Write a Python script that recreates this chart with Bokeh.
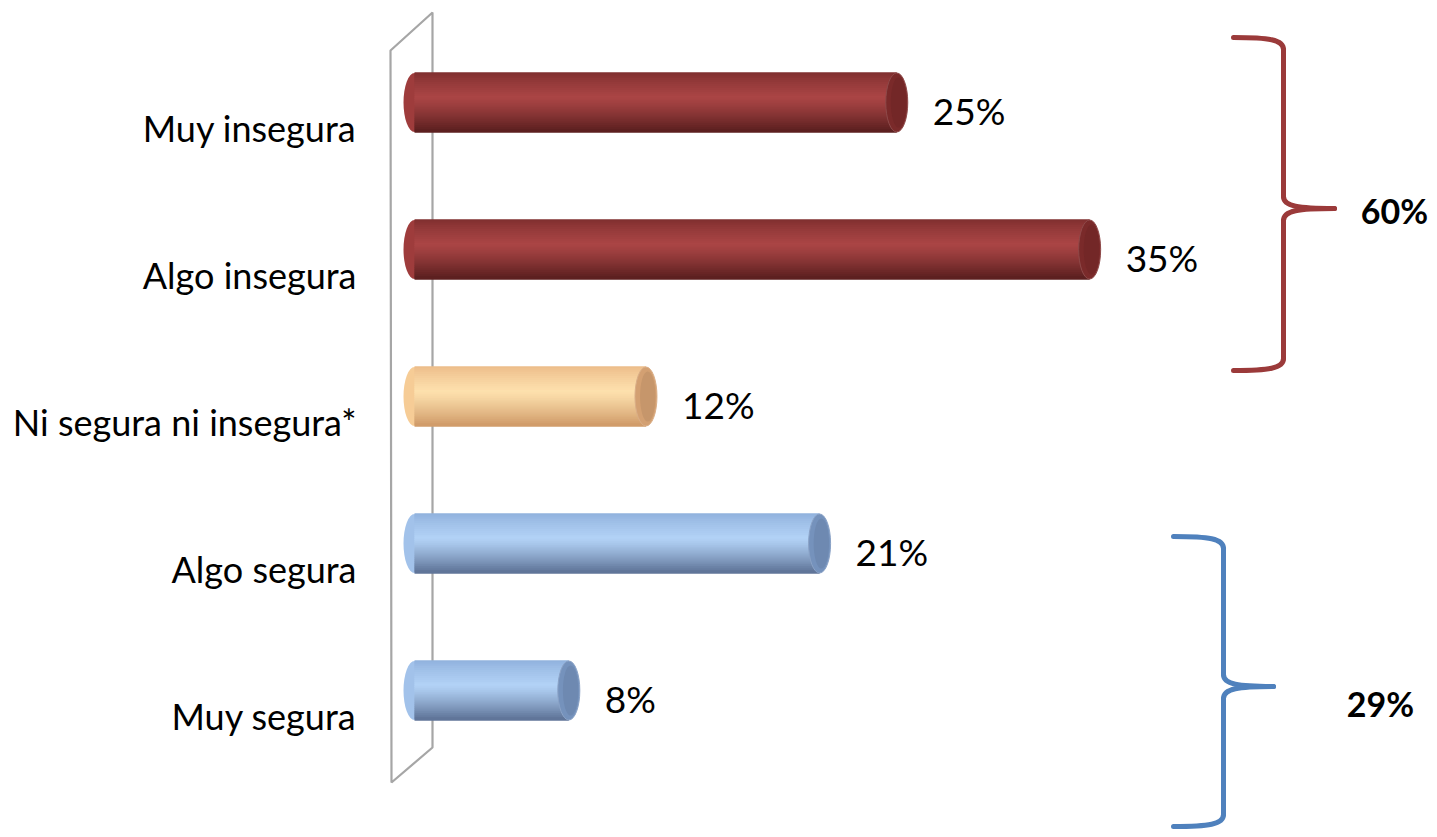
from bokeh.plotting import figure
from bokeh.models import Range1d
from bokeh.core.properties import value
from bokeh.embed import file_html
from bokeh.resources import INLINE

# ---- data ----
categories = ["Muy insegura", "Algo insegura", "Ni segura ni insegura*", "Algo segura", "Muy segura"]
percentages = [25, 35, 12, 21, 8]
groups = ["neg", "neg", "mid", "pos", "pos"]
value_labels = ["25%", "35%", "12%", "21%", "8%"]

# ---- layout constants (page pixels) ----
W, H = 1429, 829
OFF = 0
PX = 19.29          # px per percent
PY = 147.0          # px per category slot
X0_PAGE = 414       # page x of 0%
XSTART = -(X0_PAGE - OFF) / PX
XEND = XSTART + W / PX
YEND = (690 - OFF) / PY
YSTART = YEND - H / PY

def dx(px):
    return XSTART + (px - OFF) / PX

def dy(py):
    return YEND - (py - OFF) / PY

p = figure(width=W, height=H, output_backend="svg", toolbar_location=None,
           x_range=Range1d(XSTART, XEND), y_range=Range1d(YSTART, YEND),
           min_border=0, min_border_left=0, min_border_right=0,
           min_border_top=0, min_border_bottom=0)
p.axis.visible = False
p.grid.visible = False
p.outline_line_color = None
p.background_fill_color = "white"
p.border_fill_color = "white"

# ---- back wall ----
wall_x = [dx(390), dx(432), dx(432), dx(391)]
wall_y = [dy(50), dy(12), dy(747), dy(782)]
p.patch(wall_x, wall_y, fill_color=None, line_color="#a6a6a6", line_width=2.2)

# ---- cylinder bars ----
palette = {
    "neg": dict(top="#7e2e2e", hi="#aa4545", bot="#5a1f1f", cap="#7a2a2a", left="#9e3c3c"),
    "mid": dict(top="#ecbb88", hi="#fde0ad", bot="#cf9a68", cap="#d3a072", left="#f6cc96"),
    "pos": dict(top="#8fb0dc", hi="#b2d2f6", bot="#5d7296", cap="#7592bc", left="#a2c2ea"),
}

def hex2rgb(h):
    h = h.lstrip("#")
    return tuple(int(h[i:i + 2], 16) for i in (0, 2, 4))

def mix(a, b, t):
    ra, rb = hex2rgb(a), hex2rgb(b)
    return "#%02x%02x%02x" % tuple(int(round(ra[i] + (rb[i] - ra[i]) * t)) for i in range(3))

HI = 0.42

def shade(c, t):
    # t: 0 top -> 1 bottom
    if t < HI:
        return mix(c["top"], c["hi"], (t / HI) ** 0.8)
    return mix(c["hi"], c["bot"], ((t - HI) / (1 - HI)) ** 1.2)

BAR_H = 59 / PY
CAP_W = 22 / PX
N = 30
n = len(categories)
ypos = [n - 1 - i for i in range(n)]

for i in range(n):
    c = palette[groups[i]]
    v = percentages[i]
    yc = ypos[i]
    # left cap
    p.ellipse(x=[0], y=[yc], width=CAP_W, height=BAR_H, fill_color=c["left"], line_color=None)
    # body stripes (slightly overlapping to avoid seams)
    ys, cols = [], []
    for k in range(N):
        t = (k + 0.5) / N
        ys.append(yc + BAR_H / 2 - t * BAR_H)
        cols.append(shade(c, t))
    p.hbar(y=ys, left=0, right=v, height=BAR_H / N * 1.8, fill_color=cols, line_color=None)
    # right end face
    p.ellipse(x=[v], y=[yc], width=CAP_W, height=BAR_H, fill_color=c["cap"],
              line_color=mix(c["cap"], "#ffffff", 0.15), line_width=1)
    p.ellipse(x=[v + CAP_W * 0.08], y=[yc], width=CAP_W * 0.7, height=BAR_H * 0.85,
              fill_color=mix(c["cap"], "#000000", 0.06), line_color=None)

# ---- category labels ----
p.text(x=[dx(356)] * n, y=[yv - 25 / PY for yv in ypos], text=categories,
       text_align="right", text_baseline="middle", text_font=value("Lato"),
       text_font_size="36px", text_color="black")

# ---- value labels ----
p.text(x=percentages, y=[yv - 8 / PY for yv in ypos], text=value_labels,
       x_offset=36, text_align="left", text_baseline="middle", text_font=value("Lato"),
       text_font_size="37px", text_color="black")

# ---- brackets ----
def bracket(xl, xv, xt, ytop, ytip, ybot, color):
    r = 12
    bz = dict(line_color=color, line_width=5, line_cap="round")
    p.bezier(x0=[dx(xl)], y0=[dy(ytop)], x1=[dx(xv)], y1=[dy(ytop + r)],
             cx0=[dx(xv - 15)], cy0=[dy(ytop)], cx1=[dx(xv)], cy1=[dy(ytop + 2)], **bz)
    p.segment(x0=[dx(xv)], y0=[dy(ytop + r)], x1=[dx(xv)], y1=[dy(ytip - r)], **bz)
    p.bezier(x0=[dx(xv)], y0=[dy(ytip - r)], x1=[dx(xt)], y1=[dy(ytip)],
             cx0=[dx(xv)], cy0=[dy(ytip - 2)], cx1=[dx(xv + 15)], cy1=[dy(ytip)], **bz)
    p.bezier(x0=[dx(xt)], y0=[dy(ytip)], x1=[dx(xv)], y1=[dy(ytip + r)],
             cx0=[dx(xv + 15)], cy0=[dy(ytip)], cx1=[dx(xv)], cy1=[dy(ytip + 2)], **bz)
    p.segment(x0=[dx(xv)], y0=[dy(ytip + r)], x1=[dx(xv)], y1=[dy(ybot - r)], **bz)
    p.bezier(x0=[dx(xv)], y0=[dy(ybot - r)], x1=[dx(xl)], y1=[dy(ybot)],
             cx0=[dx(xv)], cy0=[dy(ybot - 2)], cx1=[dx(xv - 15)], cy1=[dy(ybot)], **bz)

bracket(1233, 1283, 1334, 37, 208, 370, "#9b3a3a")
bracket(1173, 1223, 1273, 536, 686, 826, "#4f81bd")

neg_total = sum(v for v, g in zip(percentages, groups) if g == "neg")
pos_total = sum(v for v, g in zip(percentages, groups) if g == "pos")
p.text(x=[dx(1394)], y=[dy(210)], text=["%d%%" % neg_total], text_align="center",
       text_baseline="middle", text_font=value("Lato"), text_font_style="bold",
       text_font_size="34px", text_color="black")
p.text(x=[dx(1380)], y=[dy(703)], text=["%d%%" % pos_total], text_align="center",
       text_baseline="middle", text_font=value("Lato"), text_font_style="bold",
       text_font_size="34px", text_color="black")

open("out.html", "w").write(file_html(p, INLINE))
